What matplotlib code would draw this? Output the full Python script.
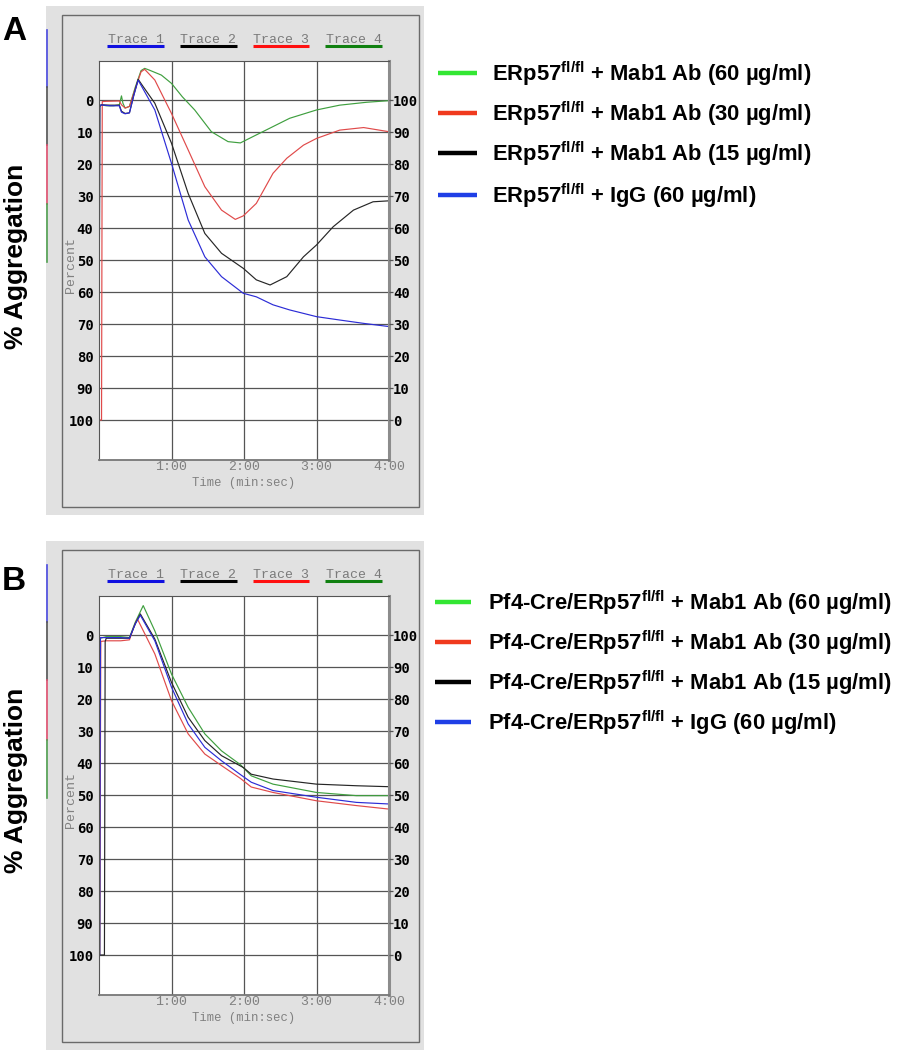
import matplotlib
matplotlib.use("Agg")
import matplotlib.pyplot as plt
from matplotlib.patches import Rectangle

# ---- data (time in minutes, value on the left "Percent" scale) ----
a_green_t = [0.0, 0.01, 0.03, 0.1, 0.2, 0.28, 0.31, 0.33, 0.36, 0.42, 0.5, 0.58, 0.63, 0.7, 0.86, 1.0,
             1.15, 1.32, 1.55, 1.78, 1.95, 2.17, 2.40, 2.63, 3.0, 3.32, 3.69, 4.0]
a_green_v = [100, 2, 1.5, 1.8, 1.8, 1.5, -1.3, 1.0, 2.5, 2.0, -4.0, -9.2, -9.9, -9.3, -7.8, -5.2,
             -1.0, 3.1, 9.9, 13.0, 13.4, 10.9, 8.3, 5.7, 3.1, 1.6, 0.7, 0.2]

a_red_t = [0.0, 0.005, 0.035, 0.045, 0.1, 0.28, 0.31, 0.36, 0.42, 0.5, 0.58, 0.63, 0.77, 1.0, 1.23,
           1.46, 1.69, 1.88, 1.99, 2.17, 2.40, 2.59, 2.82, 3.0, 3.32, 3.65, 4.0]
a_red_v = [-2.5, 100, 100, 0.5, 0.4, 0.3, 1.5, 2.5, 2.0, -3.5, -8.8, -9.6, -6.25, 4.2, 15.6,
           27.1, 34.4, 37.3, 36.2, 32.3, 22.9, 18.2, 14.1, 12.0, 9.4, 8.6, 9.9]

a_black_t = [0.0, 0.01, 0.03, 0.15, 0.28, 0.31, 0.36, 0.42, 0.48, 0.54, 0.6, 0.77, 1.0, 1.23, 1.46,
             1.69, 1.99, 2.17, 2.36, 2.59, 2.82, 3.0, 3.23, 3.51, 3.78, 4.0]
a_black_v = [100, 2, 1.5, 1.6, 1.6, 3.5, 4.2, 4.0, -1.5, -6.5, -4.5, 1.0, 13.5, 29.2, 41.7,
             47.9, 52.6, 56.2, 57.8, 55.2, 49.0, 45.3, 39.6, 34.4, 31.8, 31.5]

a_blue_t = [0.0, 0.01, 0.03, 0.15, 0.28, 0.31, 0.36, 0.42, 0.48, 0.54, 0.6, 0.77, 1.0, 1.23, 1.46,
            1.69, 1.99, 2.17, 2.40, 2.63, 3.0, 3.32, 3.65, 4.0]
a_blue_v = [100, 2, 1.5, 1.8, 1.8, 3.8, 4.3, 4.0, -1.5, -6.2, -3.8, 3.1, 19.8, 37.5, 49.0,
            55.2, 60.4, 61.5, 64.0, 65.6, 67.7, 68.75, 69.8, 70.8]

b_green_t = [0.0, 0.01, 0.02, 0.1, 0.3, 0.42, 0.5, 0.61, 0.77, 1.0, 1.23, 1.46, 1.69, 1.95, 2.1,
             2.4, 3.0, 3.55, 4.0]
b_green_v = [100, 100, 1.0, 0.5, 0.5, 0.8, -4.0, -9.2, -1.3, 12.2, 22.6, 30.9, 36.2, 40.5, 44.0,
             46.6, 49.2, 50.2, 50.2]

b_red_t = [0.0, 0.01, 0.025, 0.1, 0.3, 0.42, 0.48, 0.53, 0.77, 1.0, 1.23, 1.46, 1.69, 1.95, 2.1,
           2.4, 3.0, 3.55, 4.0]
b_red_v = [100, 100, 2.0, 1.8, 1.8, 1.5, -2.5, -5.0, 5.9, 20.5, 30.9, 37.2, 40.8, 44.8, 47.5,
           49.2, 51.8, 53.3, 54.4]

b_black_t = [0.0, 0.005, 0.075, 0.085, 0.1, 0.3, 0.42, 0.5, 0.57, 0.77, 1.0, 1.23, 1.46, 1.69,
             1.99, 2.1, 2.4, 3.0, 3.55, 4.0]
b_black_v = [0.0, 100, 100, 2.0, 1.0, 1.0, 1.0, -3.5, -6.6, 1.25, 14.8, 25.7, 33.0, 37.7,
             41.4, 43.5, 45.0, 46.6, 47.1, 47.4]

b_blue_t = [0.0, 0.01, 0.02, 0.1, 0.3, 0.42, 0.5, 0.57, 0.77, 1.0, 1.23, 1.46, 1.69, 1.95, 2.1,
            2.4, 3.0, 3.55, 4.0]
b_blue_v = [100, 100, 0.8, 0.8, 0.8, 1.0, -3.5, -6.2, 1.8, 16.3, 27.8, 35.1, 39.3, 43.6, 46.0,
            48.6, 50.7, 52.3, 52.8]

y_ticks = list(range(0, 101, 10))
x_ticks = [1, 2, 3, 4]
x_labels = ["1:00", "2:00", "3:00", "4:00"]
trace_names = ["Trace 1", "Trace 2", "Trace 3", "Trace 4"]
trace_colors = ["#1010e0", "#000000", "#ff1010", "#108010"]

legend_a = ["ERp57$^{\\mathbf{fl/fl}}$ + Mab1 Ab (60 µg/ml)",
            "ERp57$^{\\mathbf{fl/fl}}$ + Mab1 Ab (30 µg/ml)",
            "ERp57$^{\\mathbf{fl/fl}}$ + Mab1 Ab (15 µg/ml)",
            "ERp57$^{\\mathbf{fl/fl}}$ + IgG (60 µg/ml)"]
legend_b = ["Pf4-Cre/ERp57$^{\\mathbf{fl/fl}}$ + Mab1 Ab (60 µg/ml)",
            "Pf4-Cre/ERp57$^{\\mathbf{fl/fl}}$ + Mab1 Ab (30 µg/ml)",
            "Pf4-Cre/ERp57$^{\\mathbf{fl/fl}}$ + Mab1 Ab (15 µg/ml)",
            "Pf4-Cre/ERp57$^{\\mathbf{fl/fl}}$ + IgG (60 µg/ml)"]
legend_colors = ["#33e633", "#f03a1e", "#000000", "#1f3fe6"]

plot_colors = {"green": "#3f9f3f", "red": "#e04a4a", "black": "#262626", "blue": "#2c2cd6"}

plt.rcParams["mathtext.fontset"] = "custom"
plt.rcParams["mathtext.rm"] = "Liberation Sans:bold"
plt.rcParams["mathtext.bf"] = "Liberation Sans:bold"

W, H = 899, 1050
fig = plt.figure(figsize=(W / 100, H / 100), dpi=100)
bg = fig.add_axes([0, 0, 1, 1])
bg.set_xlim(0, W)
bg.set_ylim(H, 0)
bg.axis("off")


def axes_px(l, t, r, b):
    return fig.add_axes([l / W, 1 - b / H, (r - l) / W, (b - t) / H])


def draw_panel(dy, traces, letter, letter_y, agg_y, bars_y, legend, leg_rows, leg_x0, leg_x1, leg_tx):
    # gray instrument window
    bg.add_patch(Rectangle((46, 6 + dy), 378, 509, fc="#e1e1e1", ec="none"))
    bg.add_patch(Rectangle((62, 15 + dy), 357, 492, fc="none", ec="#6a6a6a", lw=1))

    # trace header
    spans = [(107, 164), (180, 237), (253, 309), (325, 382)]
    for (x0, x1), name, col in zip(spans, trace_names, trace_colors):
        bg.text((x0 + x1) / 2, 40 + dy, name, ha="center", va="center", family="Liberation Mono",
                fontsize=9.5, color="#7a7a7a")
        bg.plot([x0, x1], [46 + dy, 46 + dy], color=col, lw=2.2, solid_capstyle="butt")

    # coloured strips on the left edge
    cols = ["#4a4ae0", "#555555", "#e05070", "#50a050"]
    for (y0, y1), c in zip(bars_y, cols):
        bg.plot([47, 47], [y0, y1], color=c, lw=1.2)

    bg.text(14, letter_y, letter, ha="center", va="center", family="Liberation Sans",
            fontweight="bold", fontsize=24)
    bg.text(16, agg_y, "% Aggregation", ha="center", va="center", rotation=90,
            family="Liberation Sans", fontweight="bold", fontsize=19)
    bg.text(71, 265 + dy, "Percent", ha="center", va="center", rotation=90,
            family="Liberation Mono", fontsize=9.5, color="#808080")
    bg.text(244, 483 + dy, "Time (min:sec)", ha="center", va="center",
            family="Liberation Mono", fontsize=8.8, color="#808080")

    # legend
    for y, txt, c in zip(leg_rows, legend, legend_colors):
        bg.plot([leg_x0, leg_x1], [y, y], color=c, lw=3.2, solid_capstyle="butt")
        bg.text(leg_tx, y + 1, txt, ha="left", va="center", family="Liberation Sans",
                fontweight="bold", fontsize=15.8)

    # plot area
    ax = axes_px(99, 61 + dy, 389, 460 + dy)
    ax.set_zorder(2)
    for t, v, c in traces:
        ax.plot(t, v, color=plot_colors[c], lw=0.85)
    ax.set_xlim(0, 4)
    ax.set_ylim(112.5, -12.2)
    ax.set_yticks(y_ticks)
    ax.set_yticklabels([str(v) for v in y_ticks], family="DejaVu Sans Mono", fontweight="bold",
                       fontsize=10)
    ax.set_xticks(x_ticks)
    ax.set_xticklabels(x_labels, family="Liberation Mono", fontsize=9.5, color="#808080")
    ax.tick_params(axis="y", length=0, pad=4)
    ax.tick_params(axis="x", length=0, pad=1)
    ax.grid(True, color="#555555", lw=0.9)
    for s in ["left", "top"]:
        ax.spines[s].set_color("#555555")
    ax.spines["bottom"].set_color("#777777")
    ax.spines["bottom"].set_linewidth(1.3)
    ax.spines["right"].set_color("#8c8c8c")
    ax.spines["right"].set_linewidth(2.2)

    ax2 = ax.twinx()
    ax2.set_ylim(ax.get_ylim())
    ax2.set_yticks(y_ticks)
    ax2.set_yticklabels([str(100 - v) for v in y_ticks], family="DejaVu Sans Mono",
                        fontweight="bold", fontsize=10)
    ax2.tick_params(axis="y", length=3, width=0.9, color="#555555", pad=0)
    for s in ax2.spines.values():
        s.set_visible(False)


traces_a = [(a_green_t, a_green_v, "green"), (a_red_t, a_red_v, "red"),
            (a_black_t, a_black_v, "black"), (a_blue_t, a_blue_v, "blue")]
traces_b = [(b_green_t, b_green_v, "green"), (b_red_t, b_red_v, "red"),
            (b_black_t, b_black_v, "black"), (b_blue_t, b_blue_v, "blue")]

draw_panel(0, traces_a, "A", 31, 256, [(30, 87), (87, 145), (145, 204), (204, 262)],
           legend_a, [73, 113, 153, 195], 438, 477, 492)
draw_panel(535, traces_b, "B", 581, 780, [(565, 622), (622, 680), (680, 740), (740, 798)],
           legend_b, [602, 642, 682, 722], 435, 471, 488)

fig.savefig("out.png", dpi=100)
